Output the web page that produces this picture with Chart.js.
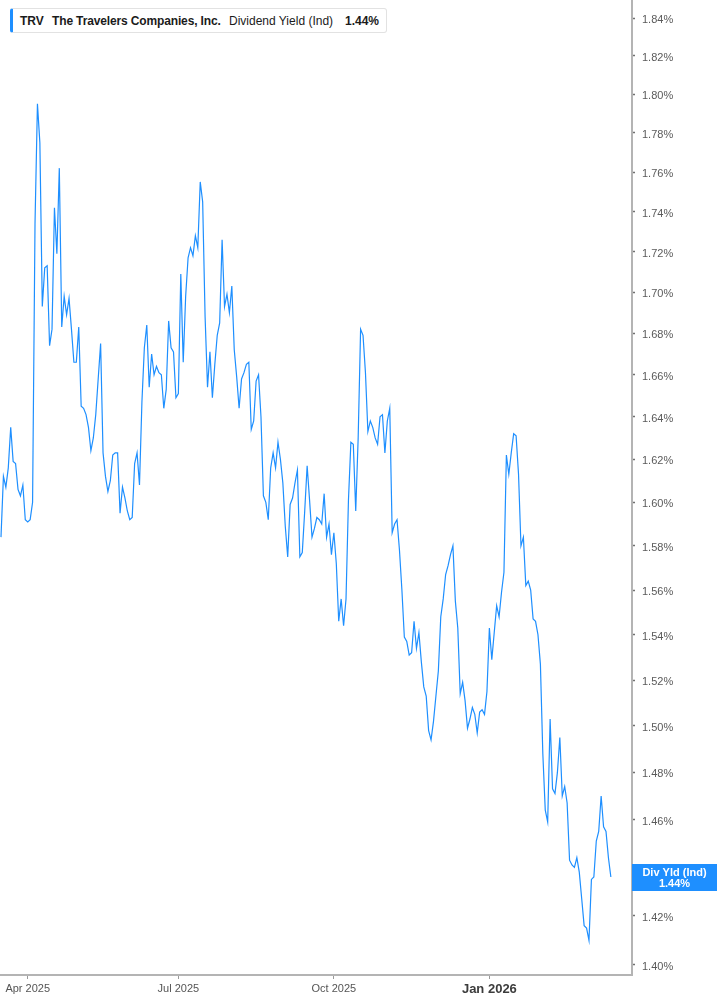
<!DOCTYPE html>
<html>
<head>
<meta charset="utf-8">
<script src="https://cdn.jsdelivr.net/npm/chart.js@4.4.1/dist/chart.umd.min.js"></script>
<style>
  html, body { margin: 0; padding: 0; background: #ffffff; }
  #wrap { position: relative; width: 717px; height: 1005px; }
  #legend {
    position: absolute; left: 10px; top: 8px; width: 373px; height: 23px;
    border: 1px solid #e2e2e2; border-left: 3px solid #1e8fff; border-radius: 3px;
    background: #fff; font-family: "Liberation Sans", Arial, sans-serif; font-size: 12px;
    color: #1b1b1b; box-sizing: content-box;
  }
  #legend span { position: absolute; top: 5px; white-space: nowrap; line-height: 14px; }
</style>
</head>
<body>
<div id="wrap">
  <canvas id="c"></canvas>
  <div id="legend">
    <span style="left:7px;font-weight:bold;">TRV</span>
    <span style="left:39px;font-weight:bold;letter-spacing:-0.14px;">The Travelers Companies, Inc.</span>
    <span style="left:216px;">Dividend Yield (Ind)</span>
    <span style="left:332px;font-weight:bold;">1.44%</span>
  </div>
</div>
<script>
// Trading-day series, 17 Mar 2025 .. 17 Mar 2026 (index = trading day)
const yieldValues = [
  1.584,1.612,1.607,1.616,1.635,1.619,1.618,1.606,1.603,1.608,
  1.592,1.591,1.592,1.600,1.734,1.795,1.775,1.693,1.712,1.713,
  1.674,1.682,1.742,1.719,1.762,1.683,1.698,1.689,1.697,1.682,
  1.666,1.666,1.683,1.645,1.644,1.641,1.635,1.624,1.630,1.641,
  1.658,1.675,1.623,1.612,1.605,1.610,1.622,1.623,1.623,1.595,
  1.607,1.602,1.596,1.592,1.593,1.618,1.623,1.608,1.647,1.673,
  1.684,1.654,1.670,1.660,1.664,1.661,1.660,1.644,1.653,1.686,
  1.673,1.671,1.649,1.651,1.709,1.666,1.698,1.717,1.722,1.718,
  1.728,1.722,1.755,1.745,1.688,1.654,1.671,1.649,1.665,1.679,
  1.685,1.726,1.693,1.699,1.690,1.703,1.672,1.659,1.644,1.658,
  1.661,1.665,1.666,1.634,1.638,1.657,1.660,1.640,1.603,1.600,
  1.592,1.616,1.623,1.616,1.628,1.620,1.609,1.589,1.575,1.599,
  1.602,1.609,1.615,1.575,1.577,1.596,1.617,1.601,1.584,1.588,
  1.593,1.592,1.590,1.604,1.584,1.590,1.576,1.586,1.572,1.546,
  1.556,1.544,1.556,1.601,1.628,1.627,1.596,1.630,1.682,1.679,
  1.661,1.633,1.638,1.635,1.630,1.627,1.640,1.641,1.623,1.638,
  1.644,1.586,1.590,1.592,1.578,1.560,1.539,1.537,1.531,1.532,
  1.546,1.534,1.541,1.528,1.517,1.513,1.498,1.494,1.502,1.513,
  1.524,1.548,1.556,1.567,1.571,1.576,1.580,1.555,1.543,1.514,
  1.519,1.511,1.499,1.503,1.508,1.505,1.497,1.506,1.507,1.505,
  1.515,1.543,1.529,1.541,1.553,1.548,1.559,1.568,1.622,1.613,
  1.623,1.632,1.631,1.613,1.580,1.584,1.562,1.564,1.560,1.547,
  1.546,1.540,1.527,1.488,1.464,1.459,1.503,1.473,1.471,1.480,
  1.495,1.470,1.474,1.467,1.443,1.441,1.440,1.444,1.438,1.427,
  1.416,1.415,1.410,1.435,1.436,1.451,1.455,1.470,1.457,1.455,
  1.444,1.436
];
const xTickIndex = [11, 73, 137, 201];
const xTickLabels = ['Apr 2025', 'Jul 2025', 'Oct 2025', 'Jan 2026'];
const yTickValues = [1.40,1.42,1.44,1.46,1.48,1.50,1.52,1.54,1.56,1.58,1.60,1.62,1.64,1.66,1.68,1.70,1.72,1.74,1.76,1.78,1.80,1.82,1.84];
const seriesName = 'Div Yld (Ind)';
const lineColor = '#1e8fff';
const lastValue = yieldValues[yieldValues.length - 1];

const tagPlugin = {
  id: 'lastTag',
  afterDraw(chart) {
    const ctx = chart.ctx;
    const y = chart.scales.y.getPixelForValue(lastValue);
    const left = chart.chartArea.right;
    const right = chart.width;
    ctx.save();
    ctx.fillStyle = lineColor;
    ctx.fillRect(left, Math.round(y - 13.5), right - left, 27);
    ctx.fillStyle = '#ffffff';
    ctx.font = 'bold 11px "Liberation Sans", Arial, sans-serif';
    ctx.textAlign = 'center';
    ctx.textBaseline = 'middle';
    const cx = (left + right) / 2;
    ctx.fillText(seriesName, cx, y - 4.5);
    ctx.fillText(lastValue.toFixed(2) + '%', cx, y + 7);
    ctx.restore();
  }
};

const canvas = document.getElementById('c');
canvas.style.width = '717px';
canvas.style.height = '1005px';

new Chart(canvas, {
  type: 'line',
  data: {
    datasets: [{
      label: seriesName,
      data: yieldValues.map((v, i) => ({ x: i, y: v })),
      borderColor: lineColor,
      borderWidth: 1.2,
      pointRadius: 0,
      tension: 0,
      fill: false
    }]
  },
  options: {
    responsive: true,
    maintainAspectRatio: false,
    animation: false,
    layout: { padding: 0 },
    plugins: { legend: { display: false }, tooltip: { enabled: false } },
    scales: {
      x: {
        type: 'linear',
        min: -0.41,
        max: 259.7,
        afterBuildTicks(scale) { scale.ticks = xTickIndex.map(v => ({ value: v })); },
        afterFit(scale) { scale.height = 30; scale.paddingLeft = 0; scale.paddingRight = 0; },
        ticks: {
          autoSkip: false,
          maxRotation: 0,
          padding: 3,
          callback(value) { const k = xTickIndex.indexOf(value); return k >= 0 ? xTickLabels[k] : ''; },
          color(ctx) { return ctx.tick && ctx.tick.value === 201 ? '#3c3c3c' : '#555555'; },
          font(ctx) {
            return ctx.tick && ctx.tick.value === 201
              ? { family: '"Liberation Sans", Arial, sans-serif', size: 13, weight: 'bold' }
              : { family: '"Liberation Sans", Arial, sans-serif', size: 11 };
          }
        },
        grid: { drawOnChartArea: false, drawTicks: true, tickLength: 4, color: '#9a9a9a', tickWidth: 1 },
        border: { display: true, color: '#b4b4b4', width: 2 }
      },
      y: {
        type: 'logarithmic',
        position: 'right',
        min: 1.39596,
        max: 1.84961,
        afterBuildTicks(scale) { scale.ticks = yTickValues.map(v => ({ value: v })); },
        afterFit(scale) { scale.width = 85; scale.paddingTop = 0; scale.paddingBottom = 0; },
        ticks: {
          autoSkip: false,
          padding: 7,
          labelOffset: 2,
          color(ctx) {
            return ctx.tick && Math.abs(ctx.tick.value - lastValue) < 0.009 ? 'rgba(0,0,0,0)' : '#5a5a5a';
          },
          font: { family: '"Liberation Sans", Arial, sans-serif', size: 11 },
          callback(value) { return Number(value).toFixed(2) + '%'; }
        },
        grid: { drawOnChartArea: false, drawTicks: true, tickLength: 3, color: '#707070', tickWidth: 1.5 },
        border: { display: true, color: '#b4b4b4', width: 2 }
      }
    }
  },
  plugins: [tagPlugin]
});
</script>
</body>
</html>
